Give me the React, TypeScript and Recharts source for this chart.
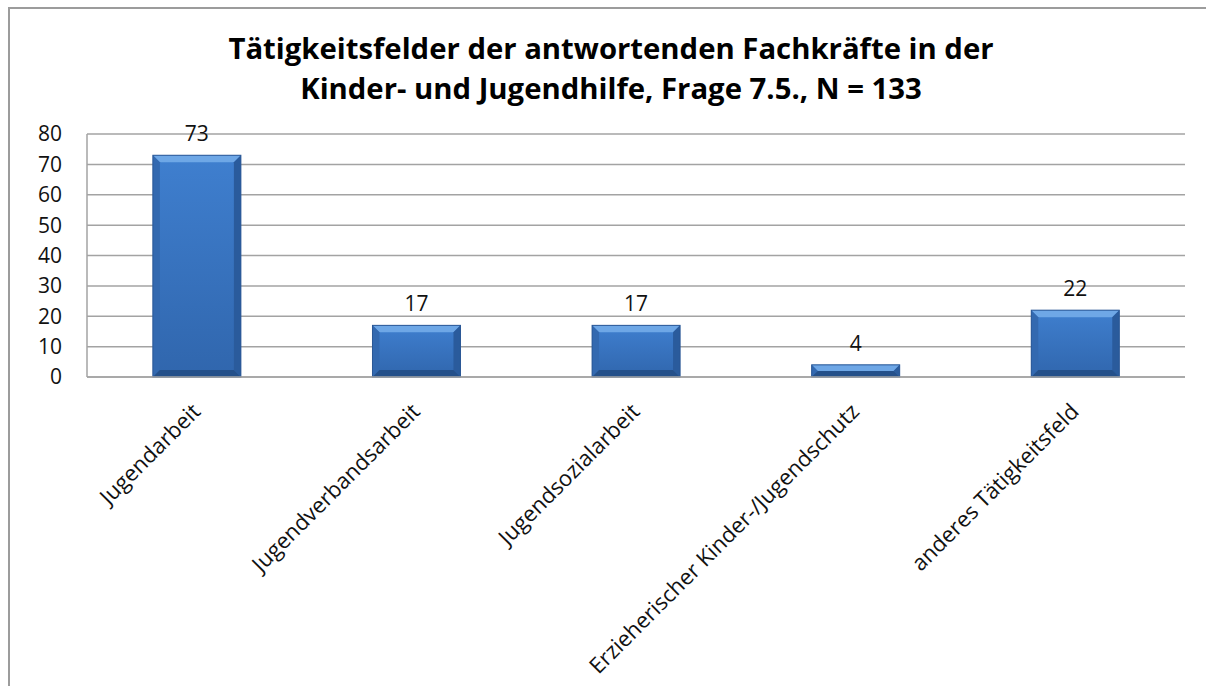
import React from 'react';
import { BarChart, Bar, XAxis, YAxis, CartesianGrid, LabelList } from 'recharts';

const categories = [
    'Jugendarbeit',
    'Jugendverbandsarbeit',
    'Jugendsozialarbeit',
    'Erzieherischer Kinder-/Jugendschutz',
    'anderes Tätigkeitsfeld',
];
const counts = [73, 17, 17, 4, 22];
const yTicks = [0, 10, 20, 30, 40, 50, 60, 70, 80];
const titleLines = [
    'Tätigkeitsfelder der antwortenden Fachkräfte in der',
    'Kinder- und Jugendhilfe, Frage 7.5., N = 133',
];

const data = categories.map((name, i) => ({ name, value: counts[i] }));

const FONT = '"Open Sans", Lato, sans-serif';

// bar with a bevelled edge, like the office 3D-ish style
const BevelBar = (props: any) => {
    const { x, y, width, height } = props;
    if (!height || height <= 0) return null;
    const b = Math.min(7, height / 2, width / 2);
    return (
        <g>
            <rect x={x} y={y} width={width} height={height} fill="url(#barBody)" />
            <polygon
                points={`${x},${y} ${x + width},${y} ${x + width - b},${y + b} ${x + b},${y + b}`}
                fill="#6ea7e6"
            />
            <polygon
                points={`${x},${y} ${x + b},${y + b} ${x + b},${y + height - b} ${x},${y + height}`}
                fill="#3369b0"
            />
            <polygon
                points={`${x + width},${y} ${x + width - b},${y + b} ${x + width - b},${y + height - b} ${x + width},${y + height}`}
                fill="#2a5b9c"
            />
            <polygon
                points={`${x},${y + height} ${x + b},${y + height - b} ${x + width - b},${y + height - b} ${x + width},${y + height}`}
                fill="#24508a"
            />
            <rect x={x} y={y} width={width} height={height} fill="none" stroke="#2a5795" strokeWidth={1} />
        </g>
    );
};

const SlantTick = (props: any) => {
    const { x, y, payload } = props;
    const tx = x + 5;
    const ty = y + 28;
    return (
        <text
            x={tx}
            y={ty}
            transform={`rotate(-45 ${tx} ${ty})`}
            textAnchor="end"
            fontFamily={FONT}
            fontSize={22}
            fill="#111"
        >
            {payload.value}
        </text>
    );
};

const App: React.FC = () => {
    return (
        <div style={{ position: 'absolute', left: 0, top: 0, width: 1206, height: 686, overflow: 'hidden', background: '#fff' }}>
            {/* chart frame, runs off the right/bottom edge */}
            <div
                style={{
                    position: 'absolute',
                    left: 8,
                    top: 7,
                    width: 1300,
                    height: 800,
                    borderTop: '2px solid #9c9c9c',
                    borderLeft: '2px solid #9c9c9c',
                }}
            />
            <svg width={1206} height={120} style={{ position: 'absolute', left: 0, top: 0 }}>
                {titleLines.map((t, i) => (
                    <text
                        key={i}
                        x={611}
                        y={59 + i * 40}
                        textAnchor="middle"
                        fontFamily={FONT}
                        fontWeight={700}
                        fontSize={29.3}
                        fill="#000"
                    >
                        {t}
                    </text>
                ))}
            </svg>
            <div style={{ position: 'absolute', left: 0, top: 0 }}>
                <BarChart
                    width={1206}
                    height={686}
                    data={data}
                    margin={{ top: 134, right: 21, left: 27, bottom: 0 }}
                    barCategoryGap="30%"
                >
                    <defs>
                        <linearGradient id="barBody" x1="0" y1="0" x2="0" y2="1">
                            <stop offset="0%" stopColor="#3f7fcf" />
                            <stop offset="100%" stopColor="#3066ad" />
                        </linearGradient>
                    </defs>
                    <CartesianGrid vertical={false} stroke="#a3a3a3" strokeWidth={1.5} />
                    <XAxis
                        dataKey="name"
                        interval={0}
                        tickLine={false}
                        axisLine={{ stroke: '#a3a3a3', strokeWidth: 1.5 }}
                        tick={<SlantTick />}
                        height={309}
                    />
                    <YAxis
                        width={60}
                        domain={[0, 80]}
                        ticks={yTicks}
                        interval={0}
                        tickLine={false}
                        tickSize={0}
                        tickMargin={25}
                        axisLine={{ stroke: '#a3a3a3', strokeWidth: 1.5 }}
                        tick={{ fill: '#111', fontSize: 21, fontFamily: FONT }}
                    />
                    <Bar dataKey="value" shape={<BevelBar />} isAnimationActive={false}>
                        <LabelList
                            dataKey="value"
                            position="top"
                            offset={14}
                            fill="#111"
                            fontSize={21}
                            fontFamily={FONT}
                        />
                    </Bar>
                </BarChart>
            </div>
        </div>
    );
};

export default App;
